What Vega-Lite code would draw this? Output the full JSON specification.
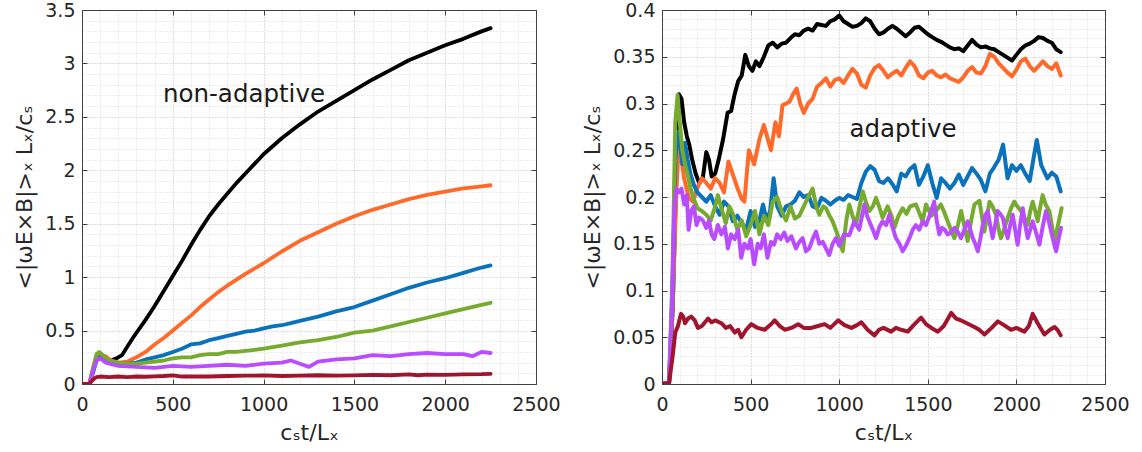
{
  "$schema": "https://vega.github.io/schema/vega-lite/v6.json",
  "background": "white",
  "padding": {"left": 13, "top": 0, "right": 5, "bottom": 5},
  "spacing": 20,
  "config": {
    "font": "DejaVu Sans",
    "view": {"stroke": "#404040", "strokeWidth": 1},
    "axis": {
      "domain": true,
      "domainColor": "#404040",
      "labelFont": "DejaVu Sans",
      "labelFontSize": 19,
      "labelColor": "#262626",
      "labelFlush": false,
      "titleFont": "DejaVu Sans",
      "titleFontSize": 22,
      "titleFontWeight": "normal",
      "titleColor": "#262626",
      "gridDash": [1, 2],
      "gridColor": "#bdbdbd",
      "tickSize": -5,
      "tickColor": "#404040",
      "labelPadding": 12
    },
    "axisX": {"labelPadding": 16, "titlePadding": 8},
    "axisY": {"titlePadding": 8}
  },
  "datasets": {
    "L": [
      {"s":"k","x":0,"y":0},{"s":"k","x":40,"y":0},{"s":"k","x":60,"y":0.12},{"s":"k","x":80,"y":0.24},{"s":"k","x":100,"y":0.25},{"s":"k","x":130,"y":0.22},{"s":"k","x":160,"y":0.22},{"s":"k","x":190,"y":0.24},{"s":"k","x":220,"y":0.27},{"s":"k","x":250,"y":0.35},{"s":"k","x":280,"y":0.43},{"s":"k","x":300,"y":0.48},{"s":"k","x":350,"y":0.6},{"s":"k","x":400,"y":0.73},{"s":"k","x":450,"y":0.87},{"s":"k","x":500,"y":1.01},{"s":"k","x":550,"y":1.15},{"s":"k","x":600,"y":1.3},{"s":"k","x":650,"y":1.44},{"s":"k","x":700,"y":1.57},{"s":"k","x":750,"y":1.68},{"s":"k","x":800,"y":1.78},{"s":"k","x":850,"y":1.88},{"s":"k","x":900,"y":1.97},{"s":"k","x":950,"y":2.06},{"s":"k","x":1000,"y":2.15},{"s":"k","x":1100,"y":2.3},{"s":"k","x":1200,"y":2.43},{"s":"k","x":1300,"y":2.55},{"s":"k","x":1400,"y":2.65},{"s":"k","x":1500,"y":2.75},{"s":"k","x":1600,"y":2.85},{"s":"k","x":1700,"y":2.94},{"s":"k","x":1800,"y":3.03},{"s":"k","x":1900,"y":3.1},{"s":"k","x":2000,"y":3.17},{"s":"k","x":2100,"y":3.23},{"s":"k","x":2200,"y":3.3},{"s":"k","x":2250,"y":3.33},
      {"s":"o","x":0,"y":0},{"s":"o","x":40,"y":0},{"s":"o","x":60,"y":0.12},{"s":"o","x":80,"y":0.24},{"s":"o","x":100,"y":0.27},{"s":"o","x":130,"y":0.26},{"s":"o","x":160,"y":0.22},{"s":"o","x":200,"y":0.2},{"s":"o","x":250,"y":0.21},{"s":"o","x":300,"y":0.25},{"s":"o","x":350,"y":0.3},{"s":"o","x":400,"y":0.37},{"s":"o","x":450,"y":0.43},{"s":"o","x":500,"y":0.5},{"s":"o","x":550,"y":0.57},{"s":"o","x":600,"y":0.64},{"s":"o","x":650,"y":0.72},{"s":"o","x":700,"y":0.79},{"s":"o","x":750,"y":0.86},{"s":"o","x":800,"y":0.92},{"s":"o","x":900,"y":1.03},{"s":"o","x":1000,"y":1.13},{"s":"o","x":1100,"y":1.24},{"s":"o","x":1200,"y":1.34},{"s":"o","x":1300,"y":1.42},{"s":"o","x":1400,"y":1.5},{"s":"o","x":1500,"y":1.57},{"s":"o","x":1600,"y":1.63},{"s":"o","x":1700,"y":1.68},{"s":"o","x":1800,"y":1.73},{"s":"o","x":1900,"y":1.77},{"s":"o","x":2000,"y":1.8},{"s":"o","x":2100,"y":1.83},{"s":"o","x":2200,"y":1.85},{"s":"o","x":2250,"y":1.86},
      {"s":"b","x":0,"y":0},{"s":"b","x":40,"y":0},{"s":"b","x":60,"y":0.1},{"s":"b","x":80,"y":0.22},{"s":"b","x":100,"y":0.25},{"s":"b","x":130,"y":0.22},{"s":"b","x":160,"y":0.2},{"s":"b","x":200,"y":0.19},{"s":"b","x":250,"y":0.19},{"s":"b","x":300,"y":0.2},{"s":"b","x":350,"y":0.23},{"s":"b","x":400,"y":0.25},{"s":"b","x":450,"y":0.27},{"s":"b","x":500,"y":0.3},{"s":"b","x":550,"y":0.33},{"s":"b","x":600,"y":0.37},{"s":"b","x":650,"y":0.38},{"s":"b","x":700,"y":0.41},{"s":"b","x":750,"y":0.43},{"s":"b","x":800,"y":0.45},{"s":"b","x":850,"y":0.47},{"s":"b","x":900,"y":0.49},{"s":"b","x":950,"y":0.5},{"s":"b","x":1000,"y":0.52},{"s":"b","x":1050,"y":0.54},{"s":"b","x":1100,"y":0.55},{"s":"b","x":1150,"y":0.57},{"s":"b","x":1200,"y":0.59},{"s":"b","x":1300,"y":0.63},{"s":"b","x":1400,"y":0.68},{"s":"b","x":1500,"y":0.72},{"s":"b","x":1600,"y":0.78},{"s":"b","x":1700,"y":0.84},{"s":"b","x":1800,"y":0.9},{"s":"b","x":1900,"y":0.95},{"s":"b","x":2000,"y":0.99},{"s":"b","x":2100,"y":1.04},{"s":"b","x":2200,"y":1.09},{"s":"b","x":2250,"y":1.11},
      {"s":"g","x":0,"y":0},{"s":"g","x":40,"y":0},{"s":"g","x":60,"y":0.15},{"s":"g","x":80,"y":0.28},{"s":"g","x":95,"y":0.3},{"s":"g","x":120,"y":0.26},{"s":"g","x":150,"y":0.22},{"s":"g","x":200,"y":0.2},{"s":"g","x":250,"y":0.19},{"s":"g","x":300,"y":0.19},{"s":"g","x":350,"y":0.2},{"s":"g","x":400,"y":0.21},{"s":"g","x":450,"y":0.22},{"s":"g","x":500,"y":0.24},{"s":"g","x":550,"y":0.25},{"s":"g","x":600,"y":0.25},{"s":"g","x":650,"y":0.27},{"s":"g","x":700,"y":0.28},{"s":"g","x":750,"y":0.28},{"s":"g","x":800,"y":0.3},{"s":"g","x":850,"y":0.3},{"s":"g","x":900,"y":0.31},{"s":"g","x":950,"y":0.32},{"s":"g","x":1000,"y":0.33},{"s":"g","x":1100,"y":0.36},{"s":"g","x":1200,"y":0.39},{"s":"g","x":1300,"y":0.41},{"s":"g","x":1400,"y":0.44},{"s":"g","x":1500,"y":0.48},{"s":"g","x":1600,"y":0.5},{"s":"g","x":1700,"y":0.54},{"s":"g","x":1800,"y":0.58},{"s":"g","x":1900,"y":0.62},{"s":"g","x":2000,"y":0.66},{"s":"g","x":2100,"y":0.7},{"s":"g","x":2200,"y":0.74},{"s":"g","x":2250,"y":0.76},
      {"s":"p","x":0,"y":0},{"s":"p","x":40,"y":0},{"s":"p","x":60,"y":0.12},{"s":"p","x":80,"y":0.22},{"s":"p","x":100,"y":0.24},{"s":"p","x":130,"y":0.2},{"s":"p","x":200,"y":0.17},{"s":"p","x":300,"y":0.16},{"s":"p","x":400,"y":0.15},{"s":"p","x":500,"y":0.17},{"s":"p","x":600,"y":0.16},{"s":"p","x":700,"y":0.17},{"s":"p","x":800,"y":0.18},{"s":"p","x":900,"y":0.17},{"s":"p","x":1000,"y":0.19},{"s":"p","x":1100,"y":0.2},{"s":"p","x":1150,"y":0.22},{"s":"p","x":1200,"y":0.19},{"s":"p","x":1250,"y":0.16},{"s":"p","x":1300,"y":0.21},{"s":"p","x":1400,"y":0.23},{"s":"p","x":1500,"y":0.24},{"s":"p","x":1600,"y":0.27},{"s":"p","x":1700,"y":0.26},{"s":"p","x":1800,"y":0.28},{"s":"p","x":1900,"y":0.29},{"s":"p","x":2000,"y":0.28},{"s":"p","x":2100,"y":0.28},{"s":"p","x":2150,"y":0.26},{"s":"p","x":2200,"y":0.3},{"s":"p","x":2250,"y":0.29},
      {"s":"r","x":0,"y":0},{"s":"r","x":40,"y":0},{"s":"r","x":60,"y":0.04},{"s":"r","x":80,"y":0.065},{"s":"r","x":100,"y":0.07},{"s":"r","x":150,"y":0.065},{"s":"r","x":200,"y":0.07},{"s":"r","x":250,"y":0.065},{"s":"r","x":300,"y":0.07},{"s":"r","x":350,"y":0.068},{"s":"r","x":400,"y":0.072},{"s":"r","x":450,"y":0.075},{"s":"r","x":500,"y":0.08},{"s":"r","x":550,"y":0.07},{"s":"r","x":600,"y":0.072},{"s":"r","x":700,"y":0.07},{"s":"r","x":800,"y":0.075},{"s":"r","x":900,"y":0.078},{"s":"r","x":1000,"y":0.08},{"s":"r","x":1100,"y":0.075},{"s":"r","x":1200,"y":0.078},{"s":"r","x":1300,"y":0.082},{"s":"r","x":1400,"y":0.078},{"s":"r","x":1500,"y":0.08},{"s":"r","x":1600,"y":0.085},{"s":"r","x":1700,"y":0.082},{"s":"r","x":1800,"y":0.09},{"s":"r","x":1850,"y":0.082},{"s":"r","x":1900,"y":0.088},{"s":"r","x":2000,"y":0.086},{"s":"r","x":2100,"y":0.09},{"s":"r","x":2200,"y":0.092},{"s":"r","x":2250,"y":0.095}
    ],
    "R": [
      {"s":"k","x":0,"y":0},{"s":"k","x":40,"y":0.002},{"s":"k","x":60,"y":0.08},{"s":"k","x":80,"y":0.22},{"s":"k","x":95,"y":0.31},{"s":"k","x":110,"y":0.305},{"s":"k","x":125,"y":0.28},{"s":"k","x":140,"y":0.265},{"s":"k","x":155,"y":0.255},{"s":"k","x":170,"y":0.24},{"s":"k","x":190,"y":0.225},{"s":"k","x":210,"y":0.215},{"s":"k","x":230,"y":0.22},{"s":"k","x":250,"y":0.248},{"s":"k","x":265,"y":0.24},{"s":"k","x":280,"y":0.222},{"s":"k","x":300,"y":0.225},{"s":"k","x":320,"y":0.24},{"s":"k","x":345,"y":0.262},{"s":"k","x":370,"y":0.29},{"s":"k","x":390,"y":0.292},{"s":"k","x":410,"y":0.31},{"s":"k","x":430,"y":0.324},{"s":"k","x":450,"y":0.33},{"s":"k","x":470,"y":0.352},{"s":"k","x":490,"y":0.34},{"s":"k","x":510,"y":0.335},{"s":"k","x":530,"y":0.345},{"s":"k","x":550,"y":0.34},{"s":"k","x":575,"y":0.35},{"s":"k","x":600,"y":0.362},{"s":"k","x":625,"y":0.365},{"s":"k","x":650,"y":0.36},{"s":"k","x":675,"y":0.364},{"s":"k","x":700,"y":0.365},{"s":"k","x":725,"y":0.37},{"s":"k","x":750,"y":0.374},{"s":"k","x":775,"y":0.373},{"s":"k","x":800,"y":0.378},{"s":"k","x":825,"y":0.38},{"s":"k","x":850,"y":0.378},{"s":"k","x":875,"y":0.385},{"s":"k","x":900,"y":0.384},{"s":"k","x":925,"y":0.383},{"s":"k","x":950,"y":0.388},{"s":"k","x":975,"y":0.39},{"s":"k","x":1000,"y":0.394},{"s":"k","x":1025,"y":0.388},{"s":"k","x":1050,"y":0.385},{"s":"k","x":1075,"y":0.382},{"s":"k","x":1100,"y":0.383},{"s":"k","x":1125,"y":0.386},{"s":"k","x":1150,"y":0.391},{"s":"k","x":1175,"y":0.388},{"s":"k","x":1200,"y":0.38},{"s":"k","x":1225,"y":0.374},{"s":"k","x":1250,"y":0.376},{"s":"k","x":1275,"y":0.38},{"s":"k","x":1300,"y":0.383},{"s":"k","x":1325,"y":0.38},{"s":"k","x":1350,"y":0.376},{"s":"k","x":1375,"y":0.372},{"s":"k","x":1400,"y":0.376},{"s":"k","x":1425,"y":0.381},{"s":"k","x":1450,"y":0.382},{"s":"k","x":1475,"y":0.378},{"s":"k","x":1500,"y":0.374},{"s":"k","x":1525,"y":0.371},{"s":"k","x":1550,"y":0.368},{"s":"k","x":1575,"y":0.366},{"s":"k","x":1600,"y":0.363},{"s":"k","x":1625,"y":0.36},{"s":"k","x":1650,"y":0.358},{"s":"k","x":1675,"y":0.359},{"s":"k","x":1700,"y":0.356},{"s":"k","x":1725,"y":0.362},{"s":"k","x":1750,"y":0.368},{"s":"k","x":1775,"y":0.363},{"s":"k","x":1800,"y":0.36},{"s":"k","x":1825,"y":0.361},{"s":"k","x":1850,"y":0.359},{"s":"k","x":1875,"y":0.358},{"s":"k","x":1900,"y":0.355},{"s":"k","x":1925,"y":0.352},{"s":"k","x":1950,"y":0.349},{"s":"k","x":1975,"y":0.346},{"s":"k","x":2000,"y":0.352},{"s":"k","x":2025,"y":0.358},{"s":"k","x":2050,"y":0.362},{"s":"k","x":2075,"y":0.364},{"s":"k","x":2100,"y":0.367},{"s":"k","x":2125,"y":0.371},{"s":"k","x":2150,"y":0.37},{"s":"k","x":2175,"y":0.367},{"s":"k","x":2200,"y":0.365},{"s":"k","x":2225,"y":0.358},{"s":"k","x":2250,"y":0.355},
      {"s":"o","x":0,"y":0},{"s":"o","x":40,"y":0.002},{"s":"o","x":60,"y":0.08},{"s":"o","x":80,"y":0.2},{"s":"o","x":95,"y":0.26},{"s":"o","x":110,"y":0.24},{"s":"o","x":125,"y":0.22},{"s":"o","x":150,"y":0.2},{"s":"o","x":175,"y":0.195},{"s":"o","x":200,"y":0.21},{"s":"o","x":225,"y":0.22},{"s":"o","x":250,"y":0.215},{"s":"o","x":275,"y":0.209},{"s":"o","x":300,"y":0.22},{"s":"o","x":325,"y":0.215},{"s":"o","x":350,"y":0.205},{"s":"o","x":375,"y":0.238},{"s":"o","x":400,"y":0.224},{"s":"o","x":425,"y":0.21},{"s":"o","x":450,"y":0.198},{"s":"o","x":465,"y":0.195},{"s":"o","x":490,"y":0.25},{"s":"o","x":520,"y":0.235},{"s":"o","x":550,"y":0.262},{"s":"o","x":575,"y":0.277},{"s":"o","x":600,"y":0.26},{"s":"o","x":615,"y":0.25},{"s":"o","x":640,"y":0.28},{"s":"o","x":660,"y":0.265},{"s":"o","x":680,"y":0.298},{"s":"o","x":700,"y":0.3},{"s":"o","x":720,"y":0.302},{"s":"o","x":740,"y":0.31},{"s":"o","x":760,"y":0.316},{"s":"o","x":780,"y":0.3},{"s":"o","x":800,"y":0.29},{"s":"o","x":825,"y":0.3},{"s":"o","x":850,"y":0.305},{"s":"o","x":875,"y":0.318},{"s":"o","x":900,"y":0.322},{"s":"o","x":925,"y":0.327},{"s":"o","x":950,"y":0.318},{"s":"o","x":975,"y":0.325},{"s":"o","x":1000,"y":0.327},{"s":"o","x":1025,"y":0.322},{"s":"o","x":1050,"y":0.33},{"s":"o","x":1075,"y":0.337},{"s":"o","x":1100,"y":0.332},{"s":"o","x":1125,"y":0.32},{"s":"o","x":1150,"y":0.317},{"s":"o","x":1175,"y":0.33},{"s":"o","x":1200,"y":0.338},{"s":"o","x":1225,"y":0.341},{"s":"o","x":1250,"y":0.335},{"s":"o","x":1275,"y":0.328},{"s":"o","x":1300,"y":0.332},{"s":"o","x":1325,"y":0.335},{"s":"o","x":1350,"y":0.33},{"s":"o","x":1375,"y":0.338},{"s":"o","x":1400,"y":0.345},{"s":"o","x":1425,"y":0.34},{"s":"o","x":1450,"y":0.33},{"s":"o","x":1475,"y":0.327},{"s":"o","x":1500,"y":0.333},{"s":"o","x":1525,"y":0.335},{"s":"o","x":1550,"y":0.33},{"s":"o","x":1575,"y":0.328},{"s":"o","x":1600,"y":0.331},{"s":"o","x":1625,"y":0.327},{"s":"o","x":1650,"y":0.325},{"s":"o","x":1675,"y":0.323},{"s":"o","x":1700,"y":0.328},{"s":"o","x":1725,"y":0.335},{"s":"o","x":1750,"y":0.339},{"s":"o","x":1775,"y":0.333},{"s":"o","x":1800,"y":0.332},{"s":"o","x":1825,"y":0.34},{"s":"o","x":1850,"y":0.353},{"s":"o","x":1875,"y":0.35},{"s":"o","x":1900,"y":0.343},{"s":"o","x":1925,"y":0.338},{"s":"o","x":1950,"y":0.333},{"s":"o","x":1975,"y":0.329},{"s":"o","x":2000,"y":0.336},{"s":"o","x":2025,"y":0.345},{"s":"o","x":2050,"y":0.348},{"s":"o","x":2075,"y":0.34},{"s":"o","x":2100,"y":0.335},{"s":"o","x":2125,"y":0.34},{"s":"o","x":2150,"y":0.345},{"s":"o","x":2175,"y":0.34},{"s":"o","x":2200,"y":0.337},{"s":"o","x":2225,"y":0.343},{"s":"o","x":2250,"y":0.33},
      {"s":"b","x":0,"y":0},{"s":"b","x":40,"y":0.002},{"s":"b","x":60,"y":0.1},{"s":"b","x":75,"y":0.24},{"s":"b","x":90,"y":0.27},{"s":"b","x":100,"y":0.262},{"s":"b","x":115,"y":0.235},{"s":"b","x":130,"y":0.258},{"s":"b","x":145,"y":0.24},{"s":"b","x":160,"y":0.225},{"s":"b","x":180,"y":0.213},{"s":"b","x":200,"y":0.205},{"s":"b","x":225,"y":0.2},{"s":"b","x":250,"y":0.195},{"s":"b","x":275,"y":0.202},{"s":"b","x":300,"y":0.19},{"s":"b","x":325,"y":0.181},{"s":"b","x":350,"y":0.195},{"s":"b","x":375,"y":0.19},{"s":"b","x":400,"y":0.174},{"s":"b","x":425,"y":0.18},{"s":"b","x":450,"y":0.172},{"s":"b","x":475,"y":0.165},{"s":"b","x":500,"y":0.185},{"s":"b","x":525,"y":0.168},{"s":"b","x":550,"y":0.175},{"s":"b","x":570,"y":0.192},{"s":"b","x":590,"y":0.175},{"s":"b","x":610,"y":0.185},{"s":"b","x":630,"y":0.22},{"s":"b","x":650,"y":0.19},{"s":"b","x":675,"y":0.18},{"s":"b","x":700,"y":0.19},{"s":"b","x":725,"y":0.192},{"s":"b","x":750,"y":0.196},{"s":"b","x":775,"y":0.205},{"s":"b","x":800,"y":0.2},{"s":"b","x":825,"y":0.202},{"s":"b","x":850,"y":0.19},{"s":"b","x":875,"y":0.188},{"s":"b","x":900,"y":0.199},{"s":"b","x":925,"y":0.196},{"s":"b","x":950,"y":0.192},{"s":"b","x":975,"y":0.196},{"s":"b","x":1000,"y":0.199},{"s":"b","x":1025,"y":0.197},{"s":"b","x":1050,"y":0.202},{"s":"b","x":1075,"y":0.2},{"s":"b","x":1100,"y":0.198},{"s":"b","x":1125,"y":0.215},{"s":"b","x":1150,"y":0.227},{"s":"b","x":1175,"y":0.233},{"s":"b","x":1200,"y":0.229},{"s":"b","x":1225,"y":0.217},{"s":"b","x":1250,"y":0.215},{"s":"b","x":1275,"y":0.22},{"s":"b","x":1300,"y":0.214},{"s":"b","x":1325,"y":0.206},{"s":"b","x":1350,"y":0.225},{"s":"b","x":1375,"y":0.222},{"s":"b","x":1400,"y":0.23},{"s":"b","x":1425,"y":0.234},{"s":"b","x":1450,"y":0.213},{"s":"b","x":1475,"y":0.222},{"s":"b","x":1500,"y":0.234},{"s":"b","x":1525,"y":0.215},{"s":"b","x":1550,"y":0.199},{"s":"b","x":1575,"y":0.22},{"s":"b","x":1600,"y":0.215},{"s":"b","x":1625,"y":0.209},{"s":"b","x":1650,"y":0.215},{"s":"b","x":1675,"y":0.224},{"s":"b","x":1700,"y":0.213},{"s":"b","x":1725,"y":0.222},{"s":"b","x":1750,"y":0.231},{"s":"b","x":1775,"y":0.225},{"s":"b","x":1800,"y":0.218},{"s":"b","x":1825,"y":0.206},{"s":"b","x":1850,"y":0.225},{"s":"b","x":1875,"y":0.232},{"s":"b","x":1900,"y":0.24},{"s":"b","x":1925,"y":0.256},{"s":"b","x":1950,"y":0.22},{"s":"b","x":1975,"y":0.234},{"s":"b","x":2000,"y":0.228},{"s":"b","x":2025,"y":0.234},{"s":"b","x":2050,"y":0.225},{"s":"b","x":2075,"y":0.217},{"s":"b","x":2100,"y":0.245},{"s":"b","x":2115,"y":0.261},{"s":"b","x":2140,"y":0.234},{"s":"b","x":2175,"y":0.22},{"s":"b","x":2200,"y":0.226},{"s":"b","x":2225,"y":0.222},{"s":"b","x":2250,"y":0.206},
      {"s":"g","x":0,"y":0},{"s":"g","x":40,"y":0.002},{"s":"g","x":60,"y":0.12},{"s":"g","x":75,"y":0.28},{"s":"g","x":88,"y":0.309},{"s":"g","x":100,"y":0.28},{"s":"g","x":115,"y":0.25},{"s":"g","x":130,"y":0.235},{"s":"g","x":145,"y":0.224},{"s":"g","x":160,"y":0.21},{"s":"g","x":175,"y":0.2},{"s":"g","x":200,"y":0.188},{"s":"g","x":225,"y":0.185},{"s":"g","x":250,"y":0.181},{"s":"g","x":275,"y":0.175},{"s":"g","x":300,"y":0.19},{"s":"g","x":315,"y":0.202},{"s":"g","x":340,"y":0.185},{"s":"g","x":360,"y":0.172},{"s":"g","x":380,"y":0.19},{"s":"g","x":400,"y":0.182},{"s":"g","x":425,"y":0.165},{"s":"g","x":450,"y":0.175},{"s":"g","x":475,"y":0.158},{"s":"g","x":500,"y":0.17},{"s":"g","x":525,"y":0.185},{"s":"g","x":550,"y":0.16},{"s":"g","x":575,"y":0.18},{"s":"g","x":600,"y":0.17},{"s":"g","x":625,"y":0.195},{"s":"g","x":650,"y":0.2},{"s":"g","x":675,"y":0.185},{"s":"g","x":700,"y":0.175},{"s":"g","x":725,"y":0.19},{"s":"g","x":750,"y":0.177},{"s":"g","x":775,"y":0.18},{"s":"g","x":800,"y":0.19},{"s":"g","x":825,"y":0.2},{"s":"g","x":850,"y":0.209},{"s":"g","x":870,"y":0.19},{"s":"g","x":888,"y":0.181},{"s":"g","x":910,"y":0.19},{"s":"g","x":925,"y":0.188},{"s":"g","x":945,"y":0.18},{"s":"g","x":963,"y":0.174},{"s":"g","x":990,"y":0.16},{"s":"g","x":1020,"y":0.142},{"s":"g","x":1040,"y":0.175},{"s":"g","x":1057,"y":0.192},{"s":"g","x":1075,"y":0.18},{"s":"g","x":1094,"y":0.17},{"s":"g","x":1115,"y":0.19},{"s":"g","x":1133,"y":0.206},{"s":"g","x":1150,"y":0.195},{"s":"g","x":1170,"y":0.185},{"s":"g","x":1190,"y":0.19},{"s":"g","x":1208,"y":0.199},{"s":"g","x":1225,"y":0.19},{"s":"g","x":1245,"y":0.178},{"s":"g","x":1273,"y":0.19},{"s":"g","x":1295,"y":0.18},{"s":"g","x":1311,"y":0.167},{"s":"g","x":1335,"y":0.18},{"s":"g","x":1358,"y":0.188},{"s":"g","x":1380,"y":0.182},{"s":"g","x":1400,"y":0.19},{"s":"g","x":1433,"y":0.192},{"s":"g","x":1471,"y":0.174},{"s":"g","x":1490,"y":0.192},{"s":"g","x":1520,"y":0.18},{"s":"g","x":1546,"y":0.185},{"s":"g","x":1574,"y":0.192},{"s":"g","x":1590,"y":0.185},{"s":"g","x":1612,"y":0.174},{"s":"g","x":1630,"y":0.165},{"s":"g","x":1650,"y":0.156},{"s":"g","x":1670,"y":0.17},{"s":"g","x":1688,"y":0.185},{"s":"g","x":1705,"y":0.17},{"s":"g","x":1725,"y":0.153},{"s":"g","x":1745,"y":0.175},{"s":"g","x":1763,"y":0.192},{"s":"g","x":1791,"y":0.196},{"s":"g","x":1805,"y":0.18},{"s":"g","x":1819,"y":0.163},{"s":"g","x":1835,"y":0.18},{"s":"g","x":1848,"y":0.195},{"s":"g","x":1865,"y":0.19},{"s":"g","x":1885,"y":0.181},{"s":"g","x":1900,"y":0.165},{"s":"g","x":1913,"y":0.156},{"s":"g","x":1930,"y":0.165},{"s":"g","x":1951,"y":0.178},{"s":"g","x":1970,"y":0.188},{"s":"g","x":1988,"y":0.195},{"s":"g","x":2005,"y":0.19},{"s":"g","x":2026,"y":0.185},{"s":"g","x":2045,"y":0.178},{"s":"g","x":2064,"y":0.17},{"s":"g","x":2078,"y":0.185},{"s":"g","x":2092,"y":0.195},{"s":"g","x":2106,"y":0.185},{"s":"g","x":2120,"y":0.174},{"s":"g","x":2135,"y":0.19},{"s":"g","x":2148,"y":0.202},{"s":"g","x":2165,"y":0.192},{"s":"g","x":2186,"y":0.185},{"s":"g","x":2200,"y":0.17},{"s":"g","x":2214,"y":0.152},{"s":"g","x":2235,"y":0.17},{"s":"g","x":2255,"y":0.188},
      {"s":"p","x":0,"y":0},{"s":"p","x":40,"y":0.002},{"s":"p","x":55,"y":0.08},{"s":"p","x":70,"y":0.19},{"s":"p","x":80,"y":0.209},{"s":"p","x":95,"y":0.205},{"s":"p","x":110,"y":0.209},{"s":"p","x":125,"y":0.192},{"s":"p","x":140,"y":0.202},{"s":"p","x":150,"y":0.165},{"s":"p","x":165,"y":0.185},{"s":"p","x":180,"y":0.19},{"s":"p","x":195,"y":0.17},{"s":"p","x":210,"y":0.178},{"s":"p","x":230,"y":0.175},{"s":"p","x":250,"y":0.167},{"s":"p","x":265,"y":0.175},{"s":"p","x":280,"y":0.16},{"s":"p","x":295,"y":0.155},{"s":"p","x":315,"y":0.17},{"s":"p","x":335,"y":0.16},{"s":"p","x":355,"y":0.168},{"s":"p","x":372,"y":0.145},{"s":"p","x":390,"y":0.16},{"s":"p","x":410,"y":0.155},{"s":"p","x":430,"y":0.165},{"s":"p","x":447,"y":0.135},{"s":"p","x":465,"y":0.15},{"s":"p","x":485,"y":0.145},{"s":"p","x":500,"y":0.155},{"s":"p","x":520,"y":0.128},{"s":"p","x":540,"y":0.15},{"s":"p","x":557,"y":0.145},{"s":"p","x":575,"y":0.16},{"s":"p","x":595,"y":0.135},{"s":"p","x":615,"y":0.152},{"s":"p","x":632,"y":0.149},{"s":"p","x":650,"y":0.16},{"s":"p","x":670,"y":0.155},{"s":"p","x":690,"y":0.162},{"s":"p","x":708,"y":0.153},{"s":"p","x":730,"y":0.158},{"s":"p","x":756,"y":0.145},{"s":"p","x":775,"y":0.152},{"s":"p","x":794,"y":0.156},{"s":"p","x":812,"y":0.142},{"s":"p","x":831,"y":0.145},{"s":"p","x":850,"y":0.155},{"s":"p","x":869,"y":0.163},{"s":"p","x":888,"y":0.15},{"s":"p","x":907,"y":0.152},{"s":"p","x":925,"y":0.145},{"s":"p","x":944,"y":0.138},{"s":"p","x":963,"y":0.15},{"s":"p","x":982,"y":0.156},{"s":"p","x":1000,"y":0.148},{"s":"p","x":1027,"y":0.16},{"s":"p","x":1057,"y":0.159},{"s":"p","x":1085,"y":0.174},{"s":"p","x":1113,"y":0.165},{"s":"p","x":1142,"y":0.192},{"s":"p","x":1157,"y":0.18},{"s":"p","x":1170,"y":0.174},{"s":"p","x":1190,"y":0.165},{"s":"p","x":1208,"y":0.156},{"s":"p","x":1227,"y":0.168},{"s":"p","x":1245,"y":0.174},{"s":"p","x":1265,"y":0.17},{"s":"p","x":1283,"y":0.181},{"s":"p","x":1300,"y":0.168},{"s":"p","x":1320,"y":0.156},{"s":"p","x":1340,"y":0.15},{"s":"p","x":1358,"y":0.142},{"s":"p","x":1377,"y":0.148},{"s":"p","x":1396,"y":0.156},{"s":"p","x":1415,"y":0.165},{"s":"p","x":1433,"y":0.17},{"s":"p","x":1452,"y":0.165},{"s":"p","x":1471,"y":0.174},{"s":"p","x":1490,"y":0.17},{"s":"p","x":1510,"y":0.18},{"s":"p","x":1536,"y":0.195},{"s":"p","x":1550,"y":0.175},{"s":"p","x":1565,"y":0.16},{"s":"p","x":1580,"y":0.167},{"s":"p","x":1596,"y":0.165},{"s":"p","x":1612,"y":0.16},{"s":"p","x":1630,"y":0.162},{"s":"p","x":1650,"y":0.167},{"s":"p","x":1668,"y":0.163},{"s":"p","x":1687,"y":0.156},{"s":"p","x":1706,"y":0.165},{"s":"p","x":1725,"y":0.174},{"s":"p","x":1740,"y":0.165},{"s":"p","x":1754,"y":0.156},{"s":"p","x":1768,"y":0.15},{"s":"p","x":1782,"y":0.142},{"s":"p","x":1796,"y":0.155},{"s":"p","x":1810,"y":0.17},{"s":"p","x":1824,"y":0.18},{"s":"p","x":1838,"y":0.185},{"s":"p","x":1852,"y":0.17},{"s":"p","x":1866,"y":0.156},{"s":"p","x":1880,"y":0.17},{"s":"p","x":1894,"y":0.185},{"s":"p","x":1908,"y":0.182},{"s":"p","x":1923,"y":0.178},{"s":"p","x":1937,"y":0.165},{"s":"p","x":1951,"y":0.156},{"s":"p","x":1965,"y":0.17},{"s":"p","x":1979,"y":0.181},{"s":"p","x":1993,"y":0.165},{"s":"p","x":2007,"y":0.149},{"s":"p","x":2021,"y":0.17},{"s":"p","x":2036,"y":0.188},{"s":"p","x":2050,"y":0.17},{"s":"p","x":2064,"y":0.156},{"s":"p","x":2078,"y":0.165},{"s":"p","x":2092,"y":0.174},{"s":"p","x":2111,"y":0.162},{"s":"p","x":2130,"y":0.149},{"s":"p","x":2148,"y":0.168},{"s":"p","x":2167,"y":0.185},{"s":"p","x":2182,"y":0.175},{"s":"p","x":2196,"y":0.163},{"s":"p","x":2210,"y":0.152},{"s":"p","x":2224,"y":0.142},{"s":"p","x":2238,"y":0.155},{"s":"p","x":2252,"y":0.167},
      {"s":"r","x":0,"y":0},{"s":"r","x":40,"y":0.001},{"s":"r","x":60,"y":0.03},{"s":"r","x":75,"y":0.055},{"s":"r","x":90,"y":0.062},{"s":"r","x":107,"y":0.075},{"s":"r","x":120,"y":0.072},{"s":"r","x":130,"y":0.065},{"s":"r","x":147,"y":0.07},{"s":"r","x":165,"y":0.072},{"s":"r","x":185,"y":0.068},{"s":"r","x":203,"y":0.06},{"s":"r","x":225,"y":0.062},{"s":"r","x":260,"y":0.07},{"s":"r","x":280,"y":0.066},{"s":"r","x":300,"y":0.068},{"s":"r","x":335,"y":0.065},{"s":"r","x":360,"y":0.06},{"s":"r","x":385,"y":0.062},{"s":"r","x":411,"y":0.055},{"s":"r","x":430,"y":0.058},{"s":"r","x":448,"y":0.05},{"s":"r","x":475,"y":0.058},{"s":"r","x":504,"y":0.064},{"s":"r","x":540,"y":0.06},{"s":"r","x":580,"y":0.058},{"s":"r","x":610,"y":0.063},{"s":"r","x":636,"y":0.068},{"s":"r","x":665,"y":0.062},{"s":"r","x":693,"y":0.058},{"s":"r","x":730,"y":0.06},{"s":"r","x":768,"y":0.064},{"s":"r","x":800,"y":0.06},{"s":"r","x":843,"y":0.06},{"s":"r","x":880,"y":0.062},{"s":"r","x":918,"y":0.064},{"s":"r","x":950,"y":0.06},{"s":"r","x":994,"y":0.068},{"s":"r","x":1030,"y":0.063},{"s":"r","x":1069,"y":0.06},{"s":"r","x":1100,"y":0.063},{"s":"r","x":1125,"y":0.066},{"s":"r","x":1160,"y":0.058},{"s":"r","x":1199,"y":0.052},{"s":"r","x":1225,"y":0.058},{"s":"r","x":1250,"y":0.06},{"s":"r","x":1293,"y":0.056},{"s":"r","x":1320,"y":0.06},{"s":"r","x":1350,"y":0.058},{"s":"r","x":1387,"y":0.056},{"s":"r","x":1420,"y":0.063},{"s":"r","x":1462,"y":0.071},{"s":"r","x":1490,"y":0.064},{"s":"r","x":1520,"y":0.06},{"s":"r","x":1557,"y":0.056},{"s":"r","x":1590,"y":0.062},{"s":"r","x":1632,"y":0.076},{"s":"r","x":1660,"y":0.07},{"s":"r","x":1688,"y":0.068},{"s":"r","x":1720,"y":0.065},{"s":"r","x":1763,"y":0.061},{"s":"r","x":1790,"y":0.058},{"s":"r","x":1820,"y":0.053},{"s":"r","x":1860,"y":0.06},{"s":"r","x":1895,"y":0.067},{"s":"r","x":1930,"y":0.063},{"s":"r","x":1970,"y":0.058},{"s":"r","x":2000,"y":0.06},{"s":"r","x":2045,"y":0.056},{"s":"r","x":2070,"y":0.062},{"s":"r","x":2092,"y":0.075},{"s":"r","x":2120,"y":0.065},{"s":"r","x":2158,"y":0.053},{"s":"r","x":2190,"y":0.058},{"s":"r","x":2215,"y":0.061},{"s":"r","x":2235,"y":0.057},{"s":"r","x":2250,"y":0.052}
    ],
    "LT": [{"x": 892, "y": 2.7, "t": "non-adaptive"}],
    "RT": [{"x": 1360, "y": 0.272, "t": "adaptive"}]
  },
  "hconcat": [
    {
      "width": 454,
      "height": 374,
      "resolve": {"axis": {"x": "independent", "y": "independent"}},
      "layer": [
        {
          "data": {"name": "LT"},
          "mark": {"type": "text", "fontSize": 24.5, "font": "DejaVu Sans", "color": "#1a1a1a", "align": "center", "baseline": "middle"},
          "encoding": {
            "x": {"field": "x", "type": "quantitative", "scale": {"domain": [0, 2500], "nice": false},
              "axis": {"orient": "top", "title": null, "labels": false, "grid": true, "values": [0,100,200,300,400,500,600,700,800,900,1000,1100,1200,1300,1400,1500,1600,1700,1800,1900,2000,2100,2200,2300,2400,2500],
                "gridColor": {"condition": {"test": "datum.value % 500 === 0", "value": "#bdbdbd"}, "value": "#dadada"},
                "tickColor": {"condition": {"test": "datum.value % 500 === 0", "value": "#404040"}, "value": "transparent"}}},
            "y": {"field": "y", "type": "quantitative", "scale": {"domain": [0, 3.5], "nice": false},
              "axis": {"orient": "right", "title": null, "labels": false, "grid": true, "values": [0,0.1,0.2,0.3,0.4,0.5,0.6,0.7,0.8,0.9,1,1.1,1.2,1.3,1.4,1.5,1.6,1.7,1.8,1.9,2,2.1,2.2,2.3,2.4,2.5,2.6,2.7,2.8,2.9,3,3.1,3.2,3.3,3.4,3.5],
                "gridColor": {"condition": {"test": "round(datum.value*10) % 5 === 0", "value": "#bdbdbd"}, "value": "#dadada"},
                "tickColor": {"condition": {"test": "round(datum.value*10) % 5 === 0", "value": "#404040"}, "value": "transparent"}}},
            "text": {"field": "t"}
          }
        },
        {
          "data": {"name": "L"},
          "mark": {"type": "line", "strokeWidth": 3.8, "strokeCap": "round", "strokeJoin": "round", "clip": true},
          "encoding": {
            "x": {"field": "x", "type": "quantitative", "scale": {"domain": [0, 2500], "nice": false},
              "axis": {"title": "cₛt/Lₓ", "values": [0,500,1000,1500,2000,2500], "format": "d", "grid": false}},
            "y": {"field": "y", "type": "quantitative", "scale": {"domain": [0, 3.5], "nice": false},
              "axis": {"title": "<|ωE×B|>ₓ Lₓ/cₛ", "values": [0,0.5,1,1.5,2,2.5,3,3.5], "format": "~g", "grid": false}},
            "color": {"field": "s", "type": "nominal", "legend": null,
              "scale": {"domain": ["k","o","b","g","p","r"], "range": ["#000000","#FF6A2A","#0A72BA","#76AB2F","#B94CFF","#A0142E"]}}
          }
        }
      ]
    },
    {
      "width": 443,
      "height": 374,
      "resolve": {"axis": {"x": "independent", "y": "independent"}},
      "layer": [
        {
          "data": {"name": "RT"},
          "mark": {"type": "text", "fontSize": 24.5, "font": "DejaVu Sans", "color": "#1a1a1a", "align": "center", "baseline": "middle"},
          "encoding": {
            "x": {"field": "x", "type": "quantitative", "scale": {"domain": [0, 2500], "nice": false},
              "axis": {"orient": "top", "title": null, "labels": false, "grid": true, "values": [0,100,200,300,400,500,600,700,800,900,1000,1100,1200,1300,1400,1500,1600,1700,1800,1900,2000,2100,2200,2300,2400,2500],
                "gridColor": {"condition": {"test": "datum.value % 500 === 0", "value": "#bdbdbd"}, "value": "#dadada"},
                "tickColor": {"condition": {"test": "datum.value % 500 === 0", "value": "#404040"}, "value": "transparent"}}},
            "y": {"field": "y", "type": "quantitative", "scale": {"domain": [0, 0.4], "nice": false},
              "axis": {"orient": "right", "title": null, "labels": false, "grid": true, "values": [0,0.01,0.02,0.03,0.04,0.05,0.06,0.07,0.08,0.09,0.1,0.11,0.12,0.13,0.14,0.15,0.16,0.17,0.18,0.19,0.2,0.21,0.22,0.23,0.24,0.25,0.26,0.27,0.28,0.29,0.3,0.31,0.32,0.33,0.34,0.35,0.36,0.37,0.38,0.39,0.4],
                "gridColor": {"condition": {"test": "round(datum.value*100) % 5 === 0", "value": "#bdbdbd"}, "value": "#dadada"},
                "tickColor": {"condition": {"test": "round(datum.value*100) % 5 === 0", "value": "#404040"}, "value": "transparent"}}},
            "text": {"field": "t"}
          }
        },
        {
          "data": {"name": "R"},
          "mark": {"type": "line", "strokeWidth": 4, "strokeCap": "round", "strokeJoin": "round", "clip": true},
          "encoding": {
            "x": {"field": "x", "type": "quantitative", "scale": {"domain": [0, 2500], "nice": false},
              "axis": {"title": "cₛt/Lₓ", "values": [0,500,1000,1500,2000,2500], "format": "d", "grid": false}},
            "y": {"field": "y", "type": "quantitative", "scale": {"domain": [0, 0.4], "nice": false},
              "axis": {"title": "<|ωE×B|>ₓ Lₓ/cₛ", "values": [0,0.05,0.1,0.15,0.2,0.25,0.3,0.35,0.4], "format": "~g", "grid": false}},
            "color": {"field": "s", "type": "nominal", "legend": null,
              "scale": {"domain": ["k","o","b","g","p","r"], "range": ["#000000","#FF6A2A","#0A72BA","#76AB2F","#B94CFF","#A0142E"]}}
          }
        }
      ]
    }
  ]
}
